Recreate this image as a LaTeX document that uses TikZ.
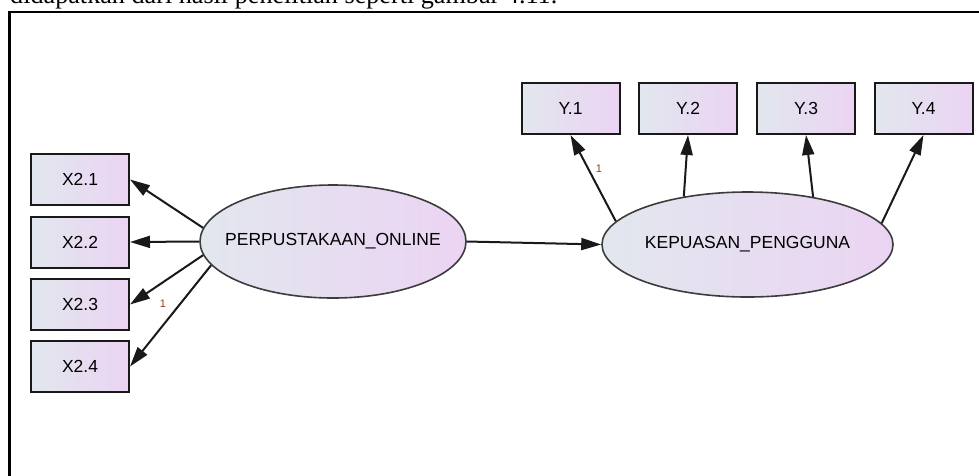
\documentclass[tikz,border=0pt]{standalone}
\usepackage{fontspec}
\setmainfont{Liberation Sans}
\newfontfamily\serifbody{Liberation Serif}
\usetikzlibrary{arrows.meta,shapes.geometric}
\definecolor{fillL}{RGB}{226,231,238}
\definecolor{fillR}{RGB}{235,212,243}
\definecolor{edgeC}{RGB}{25,25,25}
\definecolor{weightC}{RGB}{150,60,20}
\tikzset{
  obsbox/.style={draw=edgeC, line width=2pt, left color=fillL, right color=fillR,
    minimum width=98pt, minimum height=51pt, inner sep=0pt,
    font=\fontsize{17.5}{20}\selectfont},
  latent/.style={ellipse, draw=edgeC!85, line width=1.6pt, left color=fillL, right color=fillR,
    inner sep=0pt, font=\fontsize{17.5}{20}\selectfont},
  path arrow/.style={draw=edgeC, line width=2pt, -{Triangle[length=20pt,width=12pt]}},
  weight/.style={text=weightC, font=\fontsize{11}{13}\selectfont, inner sep=0pt}
}
\newcommand{\zerowidth}[1]{\makebox[0pt]{#1}}
\begin{document}
\begin{tikzpicture}[x=1pt,y=-1pt]
  \useasboundingbox (0,0) rectangle (979,475);
  \clip (0,0) rectangle (979,475);

  % caption line above the figure frame
  \node[anchor=base west, inner sep=0pt, font=\serifbody]
    (caption) at (10,3.5) {\resizebox{547pt}{!}{didapatkan dari hasil penelitian seperti gambar 4.11.}};

  % figure frame
  \draw[line width=2.6pt, black] (9.5,480) -- (9.5,12) -- (985,12);

  % latent variables
  \node[latent, minimum width=266pt, minimum height=113pt] (po) at (333,241.5) {\zerowidth{PERPUSTAKAAN\_ONLINE}};
  \node[latent, minimum width=291pt, minimum height=105pt] (kp) at (747.5,244.5) {\zerowidth{KEPUASAN\_PENGGUNA}};

  % indicators of PERPUSTAKAAN_ONLINE
  \node[obsbox] (x21) at (80,179.5) {X2.1};
  \node[obsbox] (x22) at (80,242)   {X2.2};
  \node[obsbox] (x23) at (80,304.5) {X2.3};
  \node[obsbox] (x24) at (80,366.5) {X2.4};

  % indicators of KEPUASAN_PENGGUNA
  \node[obsbox] (y1) at (570.5,108.5) {Y.1};
  \node[obsbox] (y2) at (688,108.5)   {Y.2};
  \node[obsbox] (y3) at (806,108.5)   {Y.3};
  \node[obsbox] (y4) at (923.5,108.5) {Y.4};

  % loadings
  \draw[path arrow] (po.174) -- (x21.east);
  \draw[path arrow] (po.180) -- (x22.east);
  \draw[path arrow] (po.186) -- (x23.east);
  \draw[path arrow] (po.191) -- (x24.east);

  \draw[path arrow] (kp.170.4) -- (y1.south);
  \draw[path arrow] (kp.143.6) -- (y2.south);
  \draw[path arrow] (kp.36.4)  -- (y3.south);
  \draw[path arrow] (kp.9.6)   -- (y4.south);

  % structural path
  \draw[path arrow] (po.east) -- (kp.west);

  % fixed loadings
  \node[weight] (w1) at (163,304) {1};
  \node[weight] (w2) at (599,169) {1};
\end{tikzpicture}
\end{document}
